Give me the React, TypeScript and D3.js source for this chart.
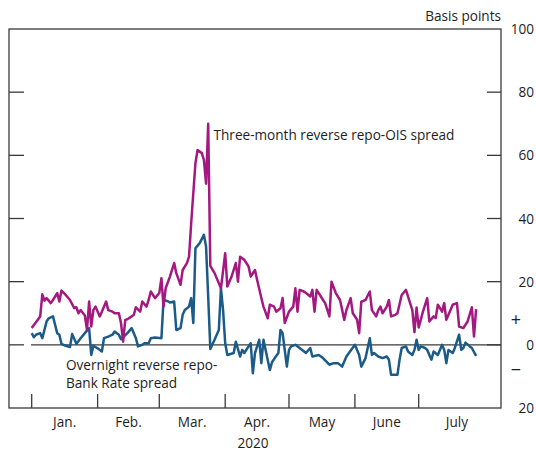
import React from "react";
import * as d3 from "d3";

// Three-month reverse repo-OIS spread (basis points)
const threeMonthDates = [
  "2020-01-01","2020-01-05","2020-01-06","2020-01-07","2020-01-08","2020-01-10","2020-01-11","2020-01-13","2020-01-14","2020-01-15",
  "2020-01-17","2020-01-19","2020-01-21","2020-01-22","2020-01-23","2020-01-24","2020-01-26","2020-01-27","2020-01-28","2020-01-29",
  "2020-01-30","2020-01-31","2020-02-02","2020-02-03","2020-02-05","2020-02-06","2020-02-08","2020-02-09","2020-02-11","2020-02-12",
  "2020-02-13","2020-02-14","2020-02-15","2020-02-17","2020-02-18","2020-02-19","2020-02-21","2020-02-22","2020-02-24","2020-02-25",
  "2020-02-26","2020-02-28","2020-03-01","2020-03-02","2020-03-03","2020-03-04","2020-03-06","2020-03-08","2020-03-09","2020-03-11",
  "2020-03-12","2020-03-14","2020-03-15","2020-03-16","2020-03-18","2020-03-19","2020-03-21","2020-03-22","2020-03-23","2020-03-24",
  "2020-03-25","2020-03-27","2020-03-30","2020-04-01","2020-04-02","2020-04-04","2020-04-06","2020-04-07","2020-04-08","2020-04-10",
  "2020-04-12","2020-04-13","2020-04-15","2020-04-16","2020-04-18","2020-04-19","2020-04-21","2020-04-22","2020-04-24","2020-04-25",
  "2020-04-27","2020-04-28","2020-04-29","2020-05-01","2020-05-03","2020-05-04","2020-05-05","2020-05-06","2020-05-08","2020-05-09",
  "2020-05-11","2020-05-12","2020-05-13","2020-05-14","2020-05-16","2020-05-17","2020-05-18","2020-05-20","2020-05-21","2020-05-23",
  "2020-05-25","2020-05-27","2020-05-28","2020-05-30","2020-05-31","2020-06-02","2020-06-03","2020-06-04","2020-06-06","2020-06-08",
  "2020-06-09","2020-06-11","2020-06-12","2020-06-13","2020-06-14","2020-06-16","2020-06-17","2020-06-18","2020-06-20","2020-06-21",
  "2020-06-23","2020-06-25","2020-06-26","2020-06-28","2020-06-29","2020-06-30","2020-07-01","2020-07-03","2020-07-05","2020-07-06",
  "2020-07-08","2020-07-09","2020-07-10","2020-07-12","2020-07-13","2020-07-14","2020-07-15","2020-07-17","2020-07-19","2020-07-20",
  "2020-07-22","2020-07-24","2020-07-26","2020-07-27","2020-07-28"
];
const threeMonthValues = [
  5.3, 9, 16, 14, 14.8, 13.2, 14.2, 16.4, 13.7, 17.2,
  15.8, 14.2, 11.6, 11.9, 10, 11, 9.3, 4.7, 13.7, 5.8,
  11, 12.1, 9, 10.5, 13.7, 11, 10.5, 10, 10, 6.9,
  1, 7.9, 8.1, 9, 9.5, 11.9, 10.5, 13.7, 12.1, 14.2,
  16.9, 14.8, 16.4, 21.1, 12.1, 17.9, 21.6, 25.9, 22.7, 19,
  23.7, 25.9, 27.9, 38.5, 57.5, 61.7, 60.7, 58.5, 51, 70,
  25, 22.7, 17.9, 29, 18.5, 21.6, 25.9, 20, 27.9, 26.9,
  24.8, 21.6, 23.7, 20.6, 14.8, 12.1, 8.4, 12.7, 12.1, 10.5,
  11.6, 14.8, 6.9, 10.5, 12.1, 17.9, 10.5, 17.4, 16.9, 16.4,
  15.3, 17.4, 10.5, 17.4, 15.3, 14.2, 13.2, 9, 20, 16.4,
  14.2, 7.9, 11, 14.8, 10, 8, 3.7, 13.7, 14.2, 16.9,
  11, 9, 11, 12.1, 10, 12.1, 14.2, 9, 9.5, 10,
  15.8, 17.4, 15.3, 11, 4, 11.8, 5.5, 10.5, 14.8, 7.4,
  9, 8.5, 12.7, 10.5, 13.2, 7.9, 9.5, 12.7, 13.2, 5.8,
  5.3, 7.4, 11.9, 2.6, 11.3
];

// Overnight reverse repo-Bank Rate spread (basis points)
const overnightDates = [
  "2020-01-01","2020-01-02","2020-01-03","2020-01-05","2020-01-06","2020-01-08","2020-01-09","2020-01-11","2020-01-13","2020-01-14",
  "2020-01-15","2020-01-17","2020-01-19","2020-01-20","2020-01-21","2020-01-22","2020-01-24","2020-01-26","2020-01-28","2020-01-29",
  "2020-01-30","2020-02-01","2020-02-03","2020-02-04","2020-02-06","2020-02-08","2020-02-09","2020-02-11","2020-02-12","2020-02-13",
  "2020-02-15","2020-02-17","2020-02-19","2020-02-20","2020-02-22","2020-02-23","2020-02-25","2020-02-26","2020-02-28","2020-03-02",
  "2020-03-03","2020-03-05","2020-03-06","2020-03-08","2020-03-09","2020-03-11","2020-03-12","2020-03-13","2020-03-15","2020-03-16",
  "2020-03-17","2020-03-18","2020-03-20","2020-03-22","2020-03-23","2020-03-24","2020-03-25","2020-03-27","2020-03-29","2020-03-30",
  "2020-03-31","2020-04-01","2020-04-02","2020-04-05","2020-04-06","2020-04-08","2020-04-09","2020-04-10","2020-04-12","2020-04-13",
  "2020-04-14","2020-04-15","2020-04-17","2020-04-18","2020-04-19","2020-04-20","2020-04-22","2020-04-23","2020-04-25","2020-04-26",
  "2020-04-27","2020-04-28","2020-04-30","2020-05-01","2020-05-02","2020-05-04","2020-05-06","2020-05-09","2020-05-11","2020-05-12",
  "2020-05-15","2020-05-17","2020-05-20","2020-05-22","2020-05-24","2020-05-26","2020-05-28","2020-06-01","2020-06-03","2020-06-04",
  "2020-06-06","2020-06-08","2020-06-09","2020-06-10","2020-06-12","2020-06-14","2020-06-16","2020-06-17","2020-06-18","2020-06-21",
  "2020-06-22","2020-06-23","2020-06-25","2020-06-26","2020-06-28","2020-06-29","2020-06-30","2020-07-01","2020-07-02","2020-07-04",
  "2020-07-05","2020-07-07","2020-07-08","2020-07-10","2020-07-12","2020-07-13","2020-07-14","2020-07-15","2020-07-17","2020-07-18",
  "2020-07-20","2020-07-21","2020-07-22","2020-07-23","2020-07-25","2020-07-26","2020-07-28"
];
const overnightValues = [
  3.7, 2.4, 3.2, 3.7, 2.1, 7.4, 8.4, 9, 3.7, 3.2,
  0.3, -0.3, -0.7, 3.4, 1.9, 0.3, 2.1, 3.7, 5.3, -3.2,
  -0.3, -1.1, -2.1, 2.1, 2.6, 3.2, 4.2, 3.2, 1.8, 2.4,
  3.7, 5.3, 2.1, -0.5, 0, 0.5, 0.5, 2.1, 2.3, 2.1,
  14.2, 13.8, 13.4, 13.7, 4.7, 5.3, 9.5, 11, 12.1, 14.8,
  6.9, 30.6, 32.2, 34.8, 31.1, 15.3, -1.3, 1.6, 4.7, 17.9,
  11, 0.5, -3.2, -2.6, 1, -3.7, -1.6, -2.6, -0.5, 0.5,
  -9, -2.6, 1.6, -5.8, 1.6, -1.6, -8, -5.5, -3.5, -2.6,
  4.7, 3.7, -6.9, -1.6, -0.5, 0, -1, -2.6, -1, -3.7,
  -3.2, -4.2, -6.3, -5.8, -5.8, -6.9, -3.7, 0, -3.2, -6.9,
  -4.2, 2.1, -3.2, -2.6, -3.7, -4.2, -3.7, -4.7, -9.5, -9.5,
  -4.7, -1, -0.5, -2.1, -3.2, -1.6, 1.6, -1.6, -0.5, -1,
  -1.6, -4.7, -2.1, -3.2, 0, -1.6, -5.8, -1.6, -2.6, -1,
  3.2, -1.6, -1, 0.7, -0.5, -1, -3.5
];

const monthStarts = ["2020-01-01","2020-02-01","2020-03-01","2020-04-01","2020-05-01","2020-06-01","2020-07-01","2020-08-06"];
const monthLabels = ["Jan.", "Feb.", "Mar.", "Apr.", "May", "June", "July"];
const yTicks = [100, 80, 60, 40, 20, 0, -20];
const yTickLabels = ["100", "80", "60", "40", "20", "0", "20"];
const yearLabel = "2020";

const W = 536, H = 452;
const left = 9, right = 501, top = 29, bottom = 408;
const FONT = "'Open Sans', sans-serif";
const FS = 13.6;
const MAGENTA = "#A3197F";
const BLUE = "#1C5A88";
const AXIS = "#3a3a3a";
const TEXT = "#1e1e1e";

export default function App() {
  const parse = d3.utcParse("%Y-%m-%d");
  const x = d3.scaleUtc()
    .domain([parse("2020-01-01")!, parse("2020-07-01")!])
    .range([31.7, 418.7]);
  const y = d3.scaleLinear().domain([-20, 100]).range([bottom, top]);

  const line = d3.line<[Date, number]>()
    .x((d) => x(d[0]))
    .y((d) => y(d[1]))
    .curve(d3.curveLinear);

  const tm: [Date, number][] = threeMonthDates.map((d, i) => [parse(d)!, threeMonthValues[i]]);
  const on: [Date, number][] = overnightDates.map((d, i) => [parse(d)!, overnightValues[i]]);
  const months = monthStarts.map((d) => parse(d)!);

  return (
    <svg width={W} height={H} style={{ position: "absolute", left: 0, top: 0 }} fontFamily={FONT}>
      <rect width={W} height={H} fill="#fff" />
      {/* frame */}
      <rect x={left} y={top} width={right - left} height={bottom - top} fill="none" stroke={AXIS} strokeWidth={1.3} />
      {/* y ticks */}
      {yTicks.filter((t) => t > -20 && t < 100).map((t) => (
        <g key={t}>
          <line x1={left} x2={left + 15} y1={y(t)} y2={y(t)} stroke={AXIS} strokeWidth={1.3} />
          <line x1={right - 14} x2={right} y1={y(t)} y2={y(t)} stroke={AXIS} strokeWidth={1.3} />
        </g>
      ))}
      {/* zero line */}
      <line x1={31} x2={right} y1={y(0)} y2={y(0)} stroke={AXIS} strokeWidth={1.3} />
      {/* x ticks */}
      {months.slice(0, 7).map((m, i) => (
        <line key={i} x1={x(m)} x2={x(m)} y1={bottom} y2={bottom - 14} stroke={AXIS} strokeWidth={1.3} />
      ))}
      {/* month labels */}
      {monthLabels.map((lab, i) => (
        <text key={lab} x={(x(months[i]) + x(months[i + 1])) / 2} y={426.5} textAnchor="middle" fontSize={FS} fill={TEXT}>
          {lab}
        </text>
      ))}
      <text x={253} y={447.5} textAnchor="middle" fontSize={FS} fill={TEXT}>{yearLabel}</text>
      {/* y labels */}
      {yTicks.map((t, i) => (
        <text key={i} x={534} y={y(t) + 5} textAnchor="end" fontSize={FS} fill={TEXT}>{yTickLabels[i]}</text>
      ))}
      <text x={516} y={y(8) + 6} textAnchor="middle" fontSize={18} fill={TEXT}>+</text>
      <text x={516} y={y(-8) + 6} textAnchor="middle" fontSize={18} fill={TEXT}>−</text>
      <text x={501} y={21} textAnchor="end" fontSize={FS} fill={TEXT}>Basis points</text>
      {/* series */}
      <path d={line(on)!} fill="none" stroke={BLUE} strokeWidth={2.5} strokeLinejoin="round" />
      <path d={line(tm)!} fill="none" stroke={MAGENTA} strokeWidth={2.5} strokeLinejoin="round" />
      {/* annotations */}
      <text x={213.5} y={139.5} fontSize={FS} fill={TEXT}>Three-month reverse repo-OIS spread</text>
      <text x={66} y={369.5} fontSize={FS} fill={TEXT}>Overnight reverse repo-</text>
      <text x={66} y={388} fontSize={FS} fill={TEXT}>Bank Rate spread</text>
    </svg>
  );
}
